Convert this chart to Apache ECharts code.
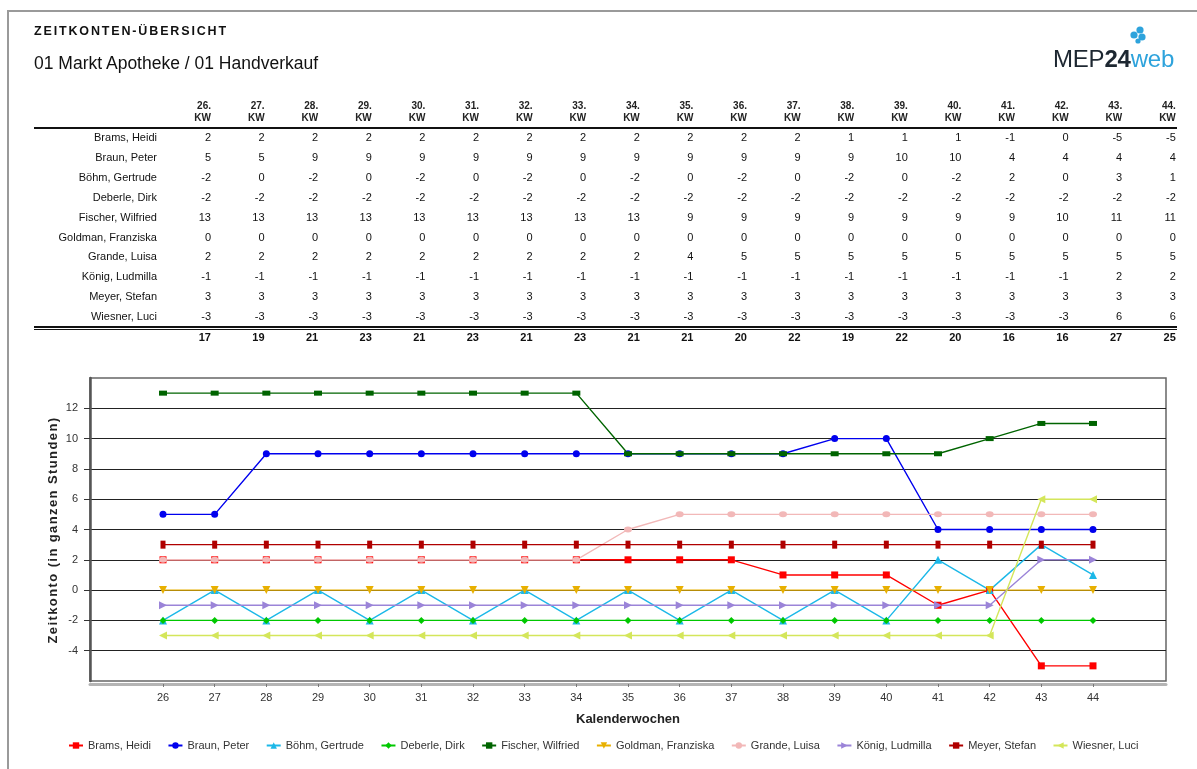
<!DOCTYPE html>
<html>
<head>
<meta charset="utf-8">
<script src="https://cdn.jsdelivr.net/npm/echarts@6/dist/echarts.min.js"></script>
<style>
  html, body { margin:0; padding:0; background:#fff; }
  body { width:1197px; height:769px; position:relative; overflow:hidden; font-family:"Liberation Sans", Arial, sans-serif; color:#111; }
  #chart { position:absolute; left:0; top:0; width:1197px; height:769px; }
  #overlay { position:absolute; left:0; top:0; width:1197px; height:769px; pointer-events:none; }
  .abs { position:absolute; white-space:nowrap; }
  .hline { position:absolute; background:#111; }
</style>
</head>
<body>
<div id="chart"></div>
<div id="overlay"></div>
<script>
// ---------- data ----------
const weeks = [26, 27, 28, 29, 30, 31, 32, 33, 34, 35, 36, 37, 38, 39, 40, 41, 42, 43, 44];
const names = ["Brams, Heidi", "Braun, Peter", "Böhm, Gertrude", "Deberle, Dirk", "Fischer, Wilfried",
               "Goldman, Franziska", "Grande, Luisa", "König, Ludmilla", "Meyer, Stefan", "Wiesner, Luci"];
const brams   = [2, 2, 2, 2, 2, 2, 2, 2, 2, 2, 2, 2, 1, 1, 1, -1, 0, -5, -5];
const braun   = [5, 5, 9, 9, 9, 9, 9, 9, 9, 9, 9, 9, 9, 10, 10, 4, 4, 4, 4];
const boehm   = [-2, 0, -2, 0, -2, 0, -2, 0, -2, 0, -2, 0, -2, 0, -2, 2, 0, 3, 1];
const deberle = [-2, -2, -2, -2, -2, -2, -2, -2, -2, -2, -2, -2, -2, -2, -2, -2, -2, -2, -2];
const fischer = [13, 13, 13, 13, 13, 13, 13, 13, 13, 9, 9, 9, 9, 9, 9, 9, 10, 11, 11];
const goldman = [0, 0, 0, 0, 0, 0, 0, 0, 0, 0, 0, 0, 0, 0, 0, 0, 0, 0, 0];
const grande  = [2, 2, 2, 2, 2, 2, 2, 2, 2, 4, 5, 5, 5, 5, 5, 5, 5, 5, 5];
const koenig  = [-1, -1, -1, -1, -1, -1, -1, -1, -1, -1, -1, -1, -1, -1, -1, -1, -1, 2, 2];
const meyer   = [3, 3, 3, 3, 3, 3, 3, 3, 3, 3, 3, 3, 3, 3, 3, 3, 3, 3, 3];
const wiesner = [-3, -3, -3, -3, -3, -3, -3, -3, -3, -3, -3, -3, -3, -3, -3, -3, -3, 6, 6];
const yTickLabels = [-4, -2, 0, 2, 4, 6, 8, 10, 12];
const yAxisTitle = 'Zeitkonto (in ganzen Stunden)';
const xAxisTitle = 'Kalenderwochen';

const allValues = [brams, braun, boehm, deberle, fischer, goldman, grande, koenig, meyer, wiesner];

// ---------- styles ----------
const colors = ['#ff0000', '#0000ee', '#1cb8e8', '#00c800', '#006400', '#e8b000', '#f2b8b8', '#9b84d8', '#b00000', '#d4e65a'];
const symbols = ['rect', 'circle', 'triangle', 'diamond', 'rect', 'triangle', 'circle', 'triangle', 'rect', 'triangle'];
const symSizes = [7, 7, 8, 7, [8, 5], 8, [8, 6], 8, [5, 8], 8];
const symRot = [0, 0, 0, 0, 0, 180, 0, -90, 0, 90];

// ---------- overlay (header + table) ----------
const ov = document.getElementById('overlay');
function add(html, style, cls) {
  const d = document.createElement('div');
  d.className = cls || 'abs';
  d.innerHTML = html;
  Object.assign(d.style, style);
  ov.appendChild(d);
  return d;
}
// page frame
add('', {left:'7px', top:'10px', width:'1190px', height:'1.5px', background:'#9a9a9a'}, 'hline');
add('', {left:'7px', top:'10px', width:'1.5px', height:'759px', background:'#9a9a9a'}, 'hline');
// titles
add('ZEITKONTEN-ÜBERSICHT', {left:'34px', top:'24px', fontSize:'12.5px', fontWeight:'bold', letterSpacing:'1.85px', color:'#111'});
add('01 Markt Apotheke / 01 Handverkauf', {left:'34px', top:'53px', fontSize:'17.5px', color:'#111'});
// logo
add('<span style="color:#1d2731">MEP</span><span style="color:#1d2731;font-weight:bold">24</span><span style="color:#2ea3dc">web</span>',
    {left:'1053px', top:'45px', fontSize:'24px', letterSpacing:'-0.2px'});
add('<svg width="20" height="20"><circle cx="12" cy="5" r="3.6" fill="#2ea3dc"/><circle cx="6" cy="10" r="3.6" fill="#2ea3dc"/><circle cx="14" cy="12" r="3.6" fill="#2ea3dc"/><circle cx="10" cy="16" r="2.6" fill="#2ea3dc"/></svg>',
    {left:'1128px', top:'25px'});

// table
const colRight0 = 211, colStep = 53.6;
weeks.forEach((w, i) => {
  const r = colRight0 + i * colStep;
  add(w + '.<br>KW', {left:(r - 40) + 'px', width:'40px', top:'100px', fontSize:'10px', fontWeight:'bold', textAlign:'right', lineHeight:'12px', color:'#222'});
});
add('', {left:'34px', top:'127px', width:'1143px', height:'1.5px'}, 'hline');
const rowTop0 = 131, rowStep = 19.9;
names.forEach((n, j) => {
  const t = rowTop0 + j * rowStep;
  add(n, {left:'0px', width:'157px', top:t + 'px', fontSize:'11px', textAlign:'right', color:'#111'});
  allValues[j].forEach((v, i) => {
    const r = colRight0 + i * colStep;
    add(String(v), {left:(r - 40) + 'px', width:'40px', top:t + 'px', fontSize:'11px', textAlign:'right', color:'#111'});
  });
});
add('', {left:'34px', top:'326px', width:'1143px', height:'1.5px'}, 'hline');
add('', {left:'34px', top:'329px', width:'1143px', height:'1px'}, 'hline');
weeks.forEach((w, i) => {
  const r = colRight0 + i * colStep;
  let s = 0; allValues.forEach(a => s += a[i]);
  add(String(s), {left:(r - 40) + 'px', width:'40px', top:'331px', fontSize:'11px', fontWeight:'bold', textAlign:'right', color:'#111'});
});
// y axis title (letter-spaced, rotated)
add(yAxisTitle, {left:'-87px', top:'521px', width:'280px', height:'18px', lineHeight:'18px', textAlign:'center',
  fontSize:'13px', fontWeight:'bold', letterSpacing:'1.4px', color:'#222', transform:'rotate(-90deg)', transformOrigin:'50% 50%'});

// ---------- chart ----------
const chart = echarts.init(document.getElementById('chart'), null, {renderer:'canvas'});
const series = names.map((n, j) => ({
  name: n,
  type: 'line',
  data: weeks.map((w, i) => [w, allValues[j][i]]),
  symbol: symbols[j],
  symbolSize: symSizes[j],
  symbolRotate: symRot[j],
  showAllSymbol: true,
  lineStyle: { color: colors[j], width: 1.4 },
  itemStyle: { color: colors[j] },
  emphasis: { disabled: true }
}));

chart.setOption({
  animation: false,
  textStyle: { fontFamily: '"Liberation Sans", Arial, sans-serif' },
  grid: { left: 90, right: 31, top: 378, bottom: 88, show: true, borderColor: '#666', borderWidth: 1.5, containLabel: false },
  xAxis: {
    type: 'value', min: 24.587, max: 45.413,
    offset: 3,
    name: xAxisTitle, nameLocation: 'middle', nameGap: 29,
    nameTextStyle: { fontSize: 13, fontWeight: 'bold', color: '#222' },
    axisLine: { show: true, onZero: false, lineStyle: { color: '#b4b4b4', width: 3 } },
    axisTick: { show: true, length: 3, customValues: weeks, lineStyle: { color: '#777' } },
    axisLabel: { customValues: weeks, margin: 8, fontSize: 11, color: '#333' },
    splitLine: { show: false }
  },
  yAxis: {
    type: 'value', min: -6, max: 14, interval: 2,
    axisLine: { show: true, onZero: false, lineStyle: { color: '#555', width: 2.5 } },
    axisTick: { show: true, length: 6, customValues: yTickLabels, lineStyle: { color: '#333' } },
    axisLabel: { customValues: yTickLabels, margin: 12, fontSize: 11, color: '#333' },
    splitLine: { show: true, lineStyle: { color: '#222', width: 1.2 } }
  },
  legend: {
    left: 63, top: 735, itemWidth: 14, itemHeight: 8, itemGap: 16.5,
    textStyle: { fontSize: 11, color: '#333' },
    data: names
  },
  series: series
});
</script>
</body>
</html>
